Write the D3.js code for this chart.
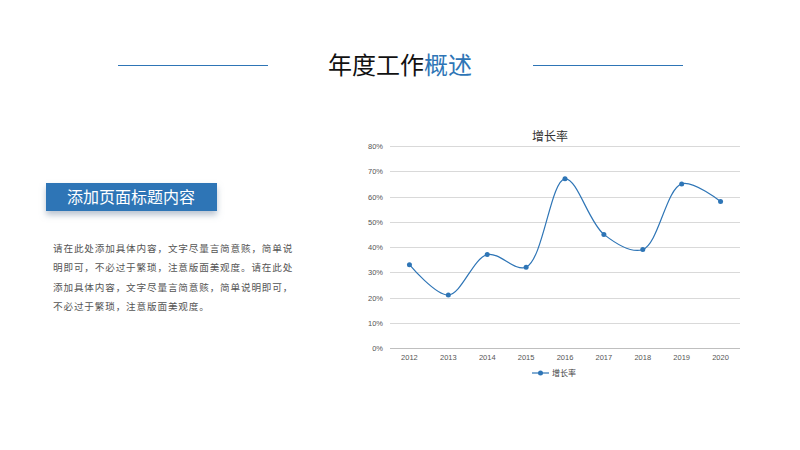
<!DOCTYPE html>
<html><head><meta charset="utf-8">
<script src="https://cdn.jsdelivr.net/npm/d3@7"></script>
<style>body{margin:0;background:#fff}svg{display:block;font-family:"Noto Sans CJK SC",sans-serif}</style>
</head><body><svg id="c" width="800" height="450"></svg>
<script>
const years = ["2012","2013","2014","2015","2016","2017","2018","2019","2020"];
const growth = [0.33,0.21,0.37,0.32,0.67,0.45,0.39,0.65,0.58];
const yTicks = [0,0.1,0.2,0.3,0.4,0.5,0.6,0.7,0.8];
const paraLines = [
  "请在此处添加具体内容，文字尽量言简意赅，简单说",
  "明即可，不必过于繁琐，注意版面美观度。请在此处",
  "添加具体内容，文字尽量言简意赅，简单说明即可，",
  "不必过于繁琐，注意版面美观度。"
];
const blue = "#2e75b6";
const svg = d3.select("#c");

// header
svg.append("line").attr("x1",118).attr("x2",268).attr("y1",65.5).attr("y2",65.5).attr("stroke",blue).attr("shape-rendering","crispEdges");
svg.append("line").attr("x1",533).attr("x2",683).attr("y1",65.5).attr("y2",65.5).attr("stroke",blue).attr("shape-rendering","crispEdges");
const t = svg.append("text").attr("x",400).attr("y",74).attr("text-anchor","middle").attr("font-size",24);
t.append("tspan").attr("fill","#111").text("年度工作");
t.append("tspan").attr("fill",blue).text("概述");

// left block
const defs = svg.append("defs");
const f = defs.append("filter").attr("id","sh").attr("x","-20%").attr("y","-50%").attr("width","140%").attr("height","220%");
f.append("feDropShadow").attr("dx",0).attr("dy",4).attr("stdDeviation",3).attr("flood-color","#8a9bb0").attr("flood-opacity",0.6);
svg.append("rect").attr("x",46).attr("y",183).attr("width",171).attr("height",28).attr("fill",blue).attr("filter","url(#sh)");
svg.append("text").attr("x",131).attr("y",203).attr("text-anchor","middle").attr("fill","#fff").attr("font-size",16).text("添加页面标题内容");
svg.selectAll(".para").data(paraLines).join("text")
  .attr("x",53).attr("y",(d,i)=>252+i*19.3).attr("font-size",9.6).attr("fill","#555")
  .attr("letter-spacing",0.85)
  .text(d=>d);

// chart
const x = d3.scaleBand().domain(years).range([390,740]);
const y = d3.scaleLinear().domain([0,0.8]).range([348,146]);
svg.append("text").attr("x",550).attr("y",141).attr("text-anchor","middle").attr("font-size",12).attr("fill","#333").text("增长率");
const g = svg.append("g");
g.selectAll(".grid").data(yTicks).join("line")
  .attr("x1",390).attr("x2",740).attr("y1",d=>Math.round(y(d))+0.5).attr("y2",d=>Math.round(y(d))+0.5)
  .attr("stroke",(d)=>d===0?"#bfbfbf":"#d9d9d9");
g.selectAll(".yl").data(yTicks).join("text")
  .attr("x",383).attr("y",d=>y(d)+3).attr("text-anchor","end").attr("font-size",7.5).attr("fill","#555")
  .attr("font-family","Liberation Sans, Arial").text(d3.format(".0%"));
g.selectAll(".xl").data(years).join("text")
  .attr("x",d=>x(d)+x.bandwidth()/2).attr("y",360).attr("text-anchor","middle").attr("font-size",7.5).attr("fill","#555")
  .attr("font-family","Liberation Sans, Arial").text(d=>d);
const cx = (d,i)=>x(years[i])+x.bandwidth()/2;
const line = d3.line().x(cx).y(d=>y(d)).curve(d3.curveCatmullRom.alpha(0.5));
g.append("path").datum(growth).attr("d",line).attr("fill","none").attr("stroke",blue).attr("stroke-width",1.2);
g.selectAll(".pt").data(growth).join("circle").attr("cx",cx).attr("cy",d=>y(d)).attr("r",2.5).attr("fill",blue);

// legend
svg.append("line").attr("x1",532).attr("x2",549).attr("y1",373).attr("y2",373).attr("stroke",blue).attr("stroke-width",1.2);
svg.append("circle").attr("cx",540.5).attr("cy",373).attr("r",2.5).attr("fill",blue);
svg.append("text").attr("x",552).attr("y",376).attr("font-size",8).attr("fill","#444").text("增长率");
</script></body></html>
